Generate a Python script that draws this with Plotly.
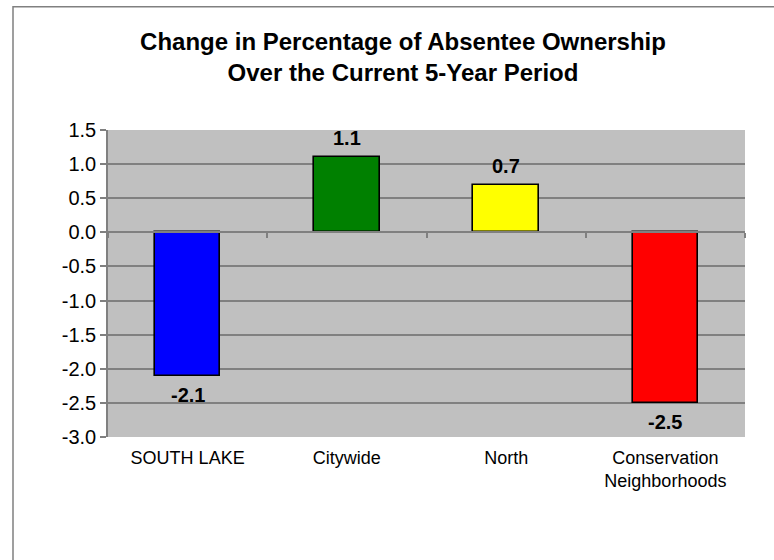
import plotly.graph_objects as go

categories = ["SOUTH LAKE", "Citywide", "North", "Conservation<br>Neighborhoods"]
values = [-2.1, 1.1, 0.7, -2.5]
bar_colors = ["#0000FF", "#008000", "#FFFF00", "#FF0000"]
value_labels = ["-2.1", "1.1", "0.7", "-2.5"]
y_tickvals = [1.5, 1.0, 0.5, 0.0, -0.5, -1.0, -1.5, -2.0, -2.5, -3.0]
y_ticktext = ["1.5", "1.0", "0.5", "0.0", "-0.5", "-1.0", "-1.5", "-2.0", "-2.5", "-3.0"]
title_text = "Change in Percentage of Absentee Ownership<br>Over the Current 5-Year Period"

FONT = "Arial, Liberation Sans, sans-serif"
GRID = "#808080"

fig = go.Figure()
fig.add_trace(go.Bar(
    x=categories, y=values,
    marker=dict(color=bar_colors, line=dict(color="black", width=1.6)),
    width=0.41,
    cliponaxis=False, showlegend=False, hoverinfo="skip",
))
# invisible trace to carry the zero-line category axis with boundary ticks
fig.add_trace(go.Scatter(
    x=categories, y=[0] * len(categories), xaxis="x2", mode="markers",
    marker=dict(opacity=0), showlegend=False, hoverinfo="skip",
))

annotations = []
for cat, val, lab in zip(categories, values, value_labels):
    annotations.append(dict(
        x=cat, y=val, xref="x", yref="y", text=lab, showarrow=False,
        yanchor="middle", yshift=19 if val >= 0 else -19,
        font=dict(family=FONT, size=20, color="black", weight="bold"),
    ))

fig.update_layout(
    width=774, height=560,
    margin=dict(l=108, r=29, t=130, b=123.4),
    paper_bgcolor="white", plot_bgcolor="#C0C0C0",
    font=dict(family=FONT, color="black"),
    title=dict(text=title_text, x=403 / 774, xanchor="center",
               xref="container", yref="container", y=1 - 50 / 560, yanchor="top",
               font=dict(family=FONT, size=24, color="black", weight="bold")),
    xaxis=dict(type="category", categoryorder="array", categoryarray=categories,
               range=[-0.5, 3.5], showgrid=False, showline=False, ticks="",
               ticklabelstandoff=8,
               tickfont=dict(size=18, family=FONT, color="black"), zeroline=False,
               fixedrange=True),
    xaxis2=dict(type="category", categoryorder="array", categoryarray=categories,
                range=[-0.5, 3.5], overlaying="x", anchor="free", position=3 / 4.5,
                showline=True, linecolor=GRID, linewidth=1.5, ticks="outside",
                tickson="boundaries", ticklen=5, tickcolor=GRID, tickwidth=1.5,
                showticklabels=False, showgrid=False, zeroline=False),
    yaxis=dict(range=[-3.0, 1.5], tickvals=y_tickvals, ticktext=y_ticktext,
               showgrid=True, gridcolor=GRID, gridwidth=1.5,
               showline=True, linecolor=GRID, linewidth=1.5,
               ticks="outside", ticklen=6, tickcolor=GRID, tickwidth=1.5,
               tickfont=dict(size=20, family=FONT, color="black"),
               zeroline=False),
    bargap=0,
    annotations=annotations,
    shapes=[dict(type="rect", xref="paper", yref="paper",
                 x0=(13 - 108) / 637, x1=2.0, y0=-2.0, y1=(436.6 - 7) / 306.6,
                 line=dict(color=GRID, width=1.5), fillcolor="rgba(0,0,0,0)",
                 layer="below")],
)

fig.write_html("out.html", post_script="document.body.style.margin='0';",
               config={"displayModeBar": False})
